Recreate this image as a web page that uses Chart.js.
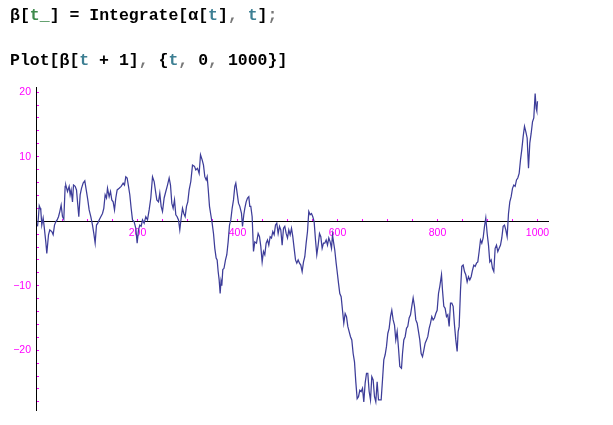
<!DOCTYPE html>
<html><head><meta charset="utf-8">
<script src="https://cdn.jsdelivr.net/npm/chart.js@4"></script>
<style>
html,body{margin:0;padding:0;background:#fff;}
#wrap{position:relative;width:613px;height:425px;overflow:hidden;background:#fff;}
canvas{position:absolute;left:0;top:0;}
.code{position:absolute;left:10px;font-family:"Liberation Mono",monospace;font-weight:bold;font-size:16.5px;line-height:20px;white-space:pre;color:#000;}
.g{color:#3f8a4c}.b{color:#3d7f93}.p{color:#777}
</style></head><body>
<div id="wrap">
<canvas id="c" width="613" height="425"></canvas>
<div class="code" style="top:6px">β[<span class="g">t_</span>] = Integrate[α[<span class="b">t</span>]<span class="p">,</span> <span class="b">t</span>]<span class="p">;</span></div>
<div class="code" style="top:50.5px">Plot[β[<span class="b">t</span> + 1]<span class="p">,</span> {<span class="b">t</span><span class="p">,</span> 0<span class="p">,</span> 1000}]</div>
</div>
<script>
const tValues = [0,1.5,3.5,5.5,6.6,8.6,11.3,13.3,16.6,18.6,22,24.6,28.6,31.3,34,36.6,39.3,42,44.6,47.3,50,52.6,55.3,56.6,60,63.3,65.3,67.3,70,72,75.3,78,80.6,82.6,85.3,88,91.3,94.6,98,100.6,103.3,106.6,110,112.6,115.3,118,120.6,123.3,126.6,130,132.6,135.3,138,140,143.3,146,148.6,151.3,154,156.6,159.3,163.3,167.3,171.3,174,176.6,179.3,182,184.6,187.3,190,193.3,196.6,199.3,202,204.6,207.3,210,213.3,216.6,220,223.3,226.6,230,233.3,236.6,238.6,242,244.6,247.3,250,253.3,256.6,260,263.3,266,268.6,271.3,274,276.6,279.3,282,284.6,287.3,290,292.6,295.3,298,300.6,303.3,306.6,310,314,316.6,320,323.3,326,329.3,332,334.6,337.3,339.3,341.3,344,346.6,349.3,352,354.6,357.3,359.3,361.3,363.3,365.3,367,368.6,370.6,373,376,378.6,381.3,384,386.6,389.3,392,394.6,396.6,399.3,402,404.6,408,410,412.6,414.6,417.3,420,422.6,424.6,426.6,429.3,432,434.6,438,441.3,444,446.6,449.3,452,454.6,457.3,460,462.6,465.3,468,470.6,473.3,476,478.6,481.3,484,486.6,489.3,492,494.6,497.3,500,502.6,505.3,508,510.6,513.3,516,518.6,521.3,524,526.6,529.3,532,534.6,537.3,540,542.6,545.3,548,550.6,553.3,556,558.6,561.3,564,566.6,569.3,572,574.6,577.3,580,582.6,585.3,588,590,592,594.6,597.3,599.3,602,604.6,607.3,610,612.6,615.3,618,620.6,623.3,626,628.6,631.3,634,636.6,639.3,642,644.6,647.3,650,652.6,655.3,658,660.6,663.3,666,668.6,671.3,674,676.6,679.3,682,684.6,687.3,690,692.6,695.3,698,700.6,703.3,706,708.6,711.3,714,716.6,719.3,722,724.6,728,730,732.6,735.3,738,740.6,743.3,746,748.6,751.3,754,756.6,759.3,762,764.6,767.3,770,772.6,775.3,778,780.6,783.3,786,788.6,791.3,794,796.6,799.3,802,804.6,808,810,812.6,815.3,818,820.6,823.3,826,828.6,831.3,834,836.6,839.3,841.3,843.3,846,848.6,851.3,854,856.6,859.3,862,864.6,867.3,870,872.6,875.3,878,880.6,883.3,886,888.6,891.3,894,896.6,899.3,902,904.6,907.3,910,912.6,915.3,918,920.6,923.3,926,928.6,931.3,934,936.6,939.3,942,944.6,947.3,950,952.6,955.3,958,960.6,963.3,966,968.6,971.3,974,976.6,979.3,982,984.6,987.3,990,992.6,995.3,997.3,998.6,1000];
const betaValues = [-0.8,0.3,2.4,2.0,1.7,-0.6,0.5,-0.8,-3.2,-5.0,-2.1,-1.35,-1.6,-2.1,-0.6,-0.1,0.2,0.7,1.5,2.5,0.7,0.3,5.4,5.6,4.6,5.4,4.1,4.85,3.0,5.6,5.4,4.85,2.5,0.7,4.1,5.1,5.9,6.25,4.6,3.3,1.75,0.7,-0.6,-1.9,-3.4,-0.6,-0.3,0.2,0.7,1.2,2.0,4.1,3.6,5.1,3.8,4.6,3.3,3.0,1.75,3.6,4.85,5.1,5.4,5.9,5.6,6.9,6.7,5.4,4.1,2.0,0.2,-0.1,-1.1,-3.4,-1.35,-0.6,-0.8,0.2,-0.3,0.7,0.2,1.75,3.6,6.9,6.15,4.35,3.3,3.0,4.35,2.3,1.5,3.6,4.6,5.6,6.7,5.6,2.8,2.0,3.3,1.0,0.7,0.2,-1.35,0.5,2.0,1.2,0.7,2.3,3.0,4.85,6.15,8.7,8.5,7.95,8.2,7.4,10.3,9.5,8.7,6.9,6.4,6.9,5.1,2.3,1.0,-0.3,-1.9,-4.2,-5.7,-6.0,-7.8,-9.1,-11.2,-9.3,-10.0,-7.5,-7.3,-6.0,-5.2,-3.2,-0.6,0.2,2.0,3.3,5.4,5.9,4.35,2.8,2.3,1.2,-0.8,1.0,2.0,3.0,3.6,3.8,2.3,2.3,0.7,-4.7,-3.2,-3.4,-1.9,-2.4,-3.9,-6.3,-4.7,-5.2,-3.4,-2.9,-3.7,-2.4,-2.6,-1.6,-2.1,-0.6,-0.3,-1.9,-0.8,-1.35,-3.7,-1.1,-0.8,-1.9,-2.6,-1.35,-2.1,-1.1,-2.4,-4.2,-6.0,-6.5,-6.0,-6.5,-6.8,-7.8,-6.3,-5.5,-3.4,-1.6,1.5,1.0,1.2,0.7,-0.1,-2.9,-5.2,-3.7,-1.9,-2.4,-4.2,-3.4,-3.4,-2.9,-3.7,-2.6,-3.2,-4.2,-2.1,-3.2,-4.5,-6.5,-7.8,-9.6,-11.2,-11.7,-13.8,-15.8,-14.3,-14.8,-16.3,-17.1,-17.9,-18.4,-20.5,-21.8,-24.9,-27.5,-27.2,-26.2,-26.4,-25.9,-28.0,-25.1,-23.6,-23.6,-26.4,-27.7,-24.1,-24.6,-27.2,-28.0,-24.9,-27.7,-27.7,-27.7,-24.6,-21.5,-20.7,-19.4,-17.4,-16.6,-14.8,-13.8,-15.3,-16.1,-18.4,-17.1,-19.7,-22.5,-22.8,-20.5,-18.4,-17.9,-16.6,-16.3,-15.0,-14.5,-13.2,-11.9,-13.2,-15.3,-15.8,-17.1,-18.4,-20.5,-21.0,-20.0,-18.9,-18.4,-17.9,-16.6,-15.8,-14.8,-15.3,-15.0,-14.3,-13.8,-11.2,-10.1,-8.3,-10.7,-13.2,-13.5,-14.8,-14.5,-16.3,-12.7,-12.7,-13.2,-16.1,-18.4,-20.2,-17.1,-16.3,-10.7,-7.0,-6.8,-7.8,-8.3,-9.4,-8.6,-9.1,-8.6,-7.6,-6.8,-7.0,-6.5,-6.3,-4.7,-2.9,-3.4,-2.6,-0.8,0.5,-1.9,-3.7,-6.3,-6.0,-7.3,-7.8,-4.2,-3.7,-4.7,-4.2,-3.7,-2.6,-0.8,-0.6,-1.35,-2.4,1.2,3.0,3.8,5.1,5.6,5.4,6.4,6.7,7.4,9.5,11.1,13.1,14.7,13.9,12.9,8.2,12.1,13.6,15.4,16.0,19.8,17.5,17.1,18.6];
const xTicks = [50,100,150,200,250,300,350,400,450,500,550,600,650,700,750,800,850,900,950,1000];
const xTickLabels = [200,400,600,800,1000];
const yTicks = [-28,-26,-24,-22,-20,-18,-16,-14,-12,-10,-8,-6,-4,-2,2,4,6,8,10,12,14,16,18,20];
const yTickLabels = [-20,-10,10,20];

const MAG = '#ff00ff';
const tickFont = {family: '"Liberation Sans", Arial, sans-serif', size: 10.5};
const fmt = v => v < 0 ? '\u2212' + (-v) : String(v);

new Chart(document.getElementById('c'), {
  type: 'line',
  data: {
    datasets: [{
      data: tValues.map((t, i) => ({x: t, y: betaValues[i]})),
      borderColor: '#3d3d99',
      borderWidth: 1.25,
      pointRadius: 0,
      tension: 0,
      fill: false
    }]
  },
  options: {
    responsive: false,
    animation: false,
    devicePixelRatio: 1,
    layout: {padding: {left: 0, right: 65, top: 87, bottom: 15}},
    plugins: {legend: {display: false}, tooltip: {enabled: false}},
    scales: {
      x: {
        type: 'linear', axis: 'x', position: {y: 0},
        min: -3, max: 1021,
        afterBuildTicks: s => { s.ticks = xTicks.map(v => ({value: v})); },
        grid: {display: true, drawOnChartArea: false, drawTicks: true, tickLength: -3, tickColor: MAG, tickWidth: 1},
        border: {display: true, color: '#000', width: 1},
        ticks: {autoSkip: false, maxRotation: 0, minRotation: 0, padding: 8.5, color: MAG, font: tickFont,
          callback: v => xTickLabels.includes(v) ? fmt(v) : ''}
      },
      y: {
        type: 'linear', axis: 'y', position: 'left',
        min: -29.26, max: 20.8,
        afterFit: s => { s.width = 36; },
        afterBuildTicks: s => { s.ticks = yTicks.map(v => ({value: v})); },
        grid: {display: true, drawOnChartArea: false, drawTicks: true, tickLength: -3, tickColor: MAG, tickWidth: 1},
        border: {display: true, color: '#000', width: 1},
        ticks: {autoSkip: false, padding: 8, color: MAG, font: tickFont,
          callback: v => yTickLabels.includes(v) ? fmt(v) : ''}
      }
    }
  }
});
</script>
</body></html>
